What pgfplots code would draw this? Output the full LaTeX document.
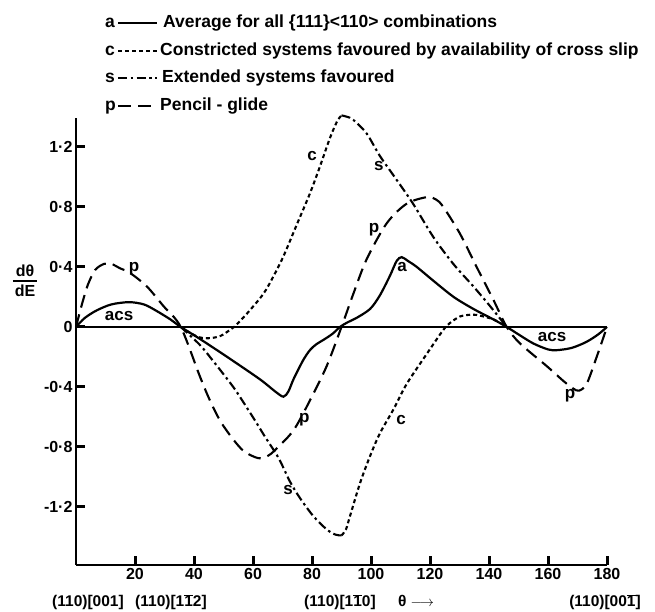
\documentclass[border=0pt]{standalone}
\usepackage{pgfplots}
\pgfplotsset{compat=1.18}
\usepackage{fontspec}
\setmainfont{Liberation Sans}
\newcommand\ob[1]{\ensuremath{\overline{\mbox{#1}}}}
\tikzset{
  aline/.style={black, line width=2.2pt, smooth, tension=0.5},
  cline/.style={black, line width=2.1pt, dash pattern=on 4pt off 3pt, smooth, tension=0.5},
  sline/.style={black, line width=2.1pt, dash pattern=on 9pt off 3.5pt on 2.5pt off 3.5pt, smooth, tension=0.5},
  pline/.style={black, line width=2.1pt, dash pattern=on 13pt off 7pt, smooth, tension=0.5},
}
\begin{document}
\begin{tikzpicture}
\begin{scope}[x=1pt,y=1pt]
\useasboundingbox (-76,-47) rectangle (579,565);
\end{scope}
\begin{axis}[
  at={(0,0)}, anchor=south west,
  scale only axis, width=531pt, height=446.6pt,
  xmin=0, xmax=180, ymin=-1.587, ymax=1.39,
  axis x line=bottom, axis y line=left,
  x axis line style={-}, y axis line style={-},
  axis line style={line width=2.8pt, black},
  clip=false,
  xtick={20,40,60,80,100,120,140,160,180},
  xticklabels={20,40,60,80,100,120,140,160,180},
  ytick={-1.2,-0.8,-0.4,0,0.4,0.8,1.2},
  yticklabels={-1·2,-0·8,-0·4,0,0·4,0·8,1·2},
  tick align=inside, major tick length=9pt,
  tick style={line width=3pt, black},
  ticklabel style={font=\fontsize{16}{16}\selectfont\bfseries},
]
\addplot[line width=2.6pt, black, sharp plot] coordinates {(0,0) (180,0)};
% tick marks
\draw[line width=3pt] (axis cs:20,-1.587) -- ++(0pt,9pt);
\draw[line width=3pt] (axis cs:40,-1.587) -- ++(0pt,9pt);
\draw[line width=3pt] (axis cs:60,-1.587) -- ++(0pt,9pt);
\draw[line width=3pt] (axis cs:80,-1.587) -- ++(0pt,9pt);
\draw[line width=3pt] (axis cs:100,-1.587) -- ++(0pt,9pt);
\draw[line width=3pt] (axis cs:120,-1.587) -- ++(0pt,9pt);
\draw[line width=3pt] (axis cs:140,-1.587) -- ++(0pt,9pt);
\draw[line width=3pt] (axis cs:160,-1.587) -- ++(0pt,9pt);
\draw[line width=3pt] (axis cs:180,-1.587) -- ++(0pt,9pt);
\draw[line width=3pt] (axis cs:0,-1.2) -- ++(9pt,0pt);
\draw[line width=3pt] (axis cs:0,-0.8) -- ++(9pt,0pt);
\draw[line width=3pt] (axis cs:0,-0.4) -- ++(9pt,0pt);
\draw[line width=3pt] (axis cs:0,0.4) -- ++(9pt,0pt);
\draw[line width=3pt] (axis cs:0,0.8) -- ++(9pt,0pt);
\draw[line width=3pt] (axis cs:0,1.2) -- ++(9pt,0pt);
% a (also c and s where they coincide)
\addplot[aline] coordinates {(0,0) (3,0.06) (7,0.11) (12,0.15) (18,0.165) (23,0.15) (27,0.11) (32,0.05) (35.5,0) (42,-0.08) (52,-0.21) (62.4,-0.35) (67.5,-0.43) (70.3,-0.465) (72,-0.43) (73.7,-0.35) (76.5,-0.24) (78,-0.19) (79.5,-0.15) (81.5,-0.115) (84,-0.085) (87,-0.045) (89.5,0) (92,0.03) (95.1,0.06) (99.7,0.12) (103,0.21) (106.4,0.34) (108.7,0.44) (110.4,0.465) (112.5,0.44) (115.5,0.40) (121,0.31) (128,0.20) (134.7,0.12) (141.5,0.05) (146,0) (150,-0.05) (155,-0.11) (160,-0.15) (163,-0.155) (168,-0.14) (173,-0.10) (177,-0.05) (180,0)};
% p
\addplot[pline] coordinates {(0,0) (2,0.15) (4,0.28) (6.5,0.38) (9.5,0.42) (12,0.42) (15,0.39) (18.3,0.36) (24,0.27) (29.6,0.14) (35.5,0) (42,-0.33) (45.4,-0.49) (49,-0.63) (53.3,-0.75) (57,-0.83) (61.8,-0.875) (65,-0.86) (67.5,-0.82) (73.7,-0.69) (79.3,-0.49) (85,-0.26) (90,0) (94,0.22) (98.5,0.45) (105.3,0.69) (112,0.82) (118.9,0.865) (122,0.85) (124.5,0.80) (130.2,0.62) (135.8,0.40) (141.5,0.18) (146,0) (150.5,-0.11) (159.5,-0.26) (165.2,-0.36) (168.5,-0.41) (170.5,-0.425) (173.1,-0.38) (176.5,-0.2) (180,0)};
% c part 1
\addplot[cline] coordinates {(35.5,0) (38.6,-0.04) (42,-0.07) (45.4,-0.075) (49,-0.06) (52.2,-0.02) (53.6,0) (58,0.09) (63.5,0.22) (67,0.34) (70.3,0.47) (74.8,0.68) (79.3,0.89) (82.7,1.07) (86.1,1.26) (88.5,1.37) (90,1.41)};
% c part 2
\addplot[cline] coordinates {(90,-1.39) (91.5,-1.35) (92.9,-1.26) (96.3,-1.04) (99.7,-0.86) (103,-0.71) (107.6,-0.55) (112.1,-0.38) (118.9,-0.18) (124.5,-0.02) (127,0.03) (130.2,0.07) (133,0.08) (135.8,0.08) (141.5,0.05) (146,0)};
% s part 1
\addplot[sline] coordinates {(35.5,0) (42,-0.12) (47,-0.24) (53.3,-0.40) (57,-0.51) (61.2,-0.64) (64,-0.73) (68.7,-0.875) (72.5,-1.03) (75.9,-1.14) (80.4,-1.26) (85,-1.35) (88,-1.385) (90,-1.39)};
% s part 2
\addplot[sline] coordinates {(90,1.41) (92,1.40) (94,1.38) (98.5,1.29) (103,1.14) (108.7,0.98) (114.3,0.82) (121.1,0.60) (127.9,0.42) (134.7,0.27) (140.3,0.14) (146,0)};
% curve labels
\begin{scope}[every node/.style={font=\fontsize{17}{17}\selectfont\bfseries, inner sep=0pt}]
\node at (axis cs:14.6,0.073) {acs};
\node at (axis cs:161.4,-0.067) {acs};
\node at (axis cs:19.7,0.39) {p};
\node at (axis cs:77.4,-0.62) {p};
\node at (axis cs:71.9,-1.09) {s};
\node at (axis cs:110.2,-0.62) {c};
\node at (axis cs:167.5,-0.46) {p};
\node at (axis cs:80,1.14) {c};
\node at (axis cs:102.7,1.07) {s};
\node at (axis cs:101,0.65) {p};
\node at (axis cs:110.5,0.40) {a};
\end{scope}
\end{axis}
\begin{scope}[x=1pt,y=1pt]
% legend
\begin{scope}[every node/.style={font=\fontsize{17.5}{17.5}\selectfont\bfseries, inner sep=0pt, anchor=base west}]
\node at (29,537) {a};
\draw[aline] (42,542) -- (81,542);
\node at (87,537) {Average for all \{111\}<110> combinations};
\node at (29,509) {c};
\draw[cline] (42,514) -- (81,514);
\node at (84,509) {Constricted systems favoured by availability of cross slip};
\node at (29,482) {s};
\draw[sline] (42,487) -- (81,487);
\node at (86,482) {Extended systems favoured};
\node at (29,454) {p};
\draw[pline] (42,459) -- (81,459);
\node at (84,454) {Pencil - glide};
\end{scope}
% y label
\node[font=\fontsize{16}{16}\selectfont\bfseries, inner sep=0pt] at (-51,294) {dθ};
\draw[line width=1.8pt] (-63,284) -- (-39,284);
\node[font=\fontsize{16}{16}\selectfont\bfseries, inner sep=0pt] at (-51,274) {dE};
% bottom labels
\begin{scope}[every node/.style={font=\fontsize{15.5}{15.5}\selectfont\bfseries, inner sep=0pt, anchor=base}]
\node at (12,-42) {(110)[001]};
\node at (95,-42) {(110)[1\ob{1}2]};
\node at (264,-42) {(110)[1\ob{1}0]};
\node at (340,-42) {θ $\longrightarrow$};
\node at (529,-42) {(110)[00\ob{1}]};
\end{scope}
\end{scope}
\end{tikzpicture}
\end{document}
